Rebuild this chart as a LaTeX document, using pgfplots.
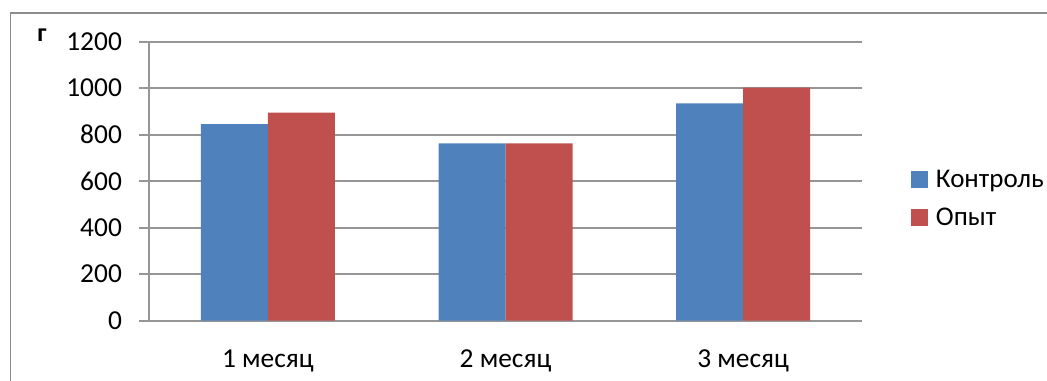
\documentclass[border=0pt]{standalone}
\usepackage{fontspec}
\setmainfont{Carlito}
\usepackage{pgfplots}
\pgfplotsset{compat=1.18}
\definecolor{cblue}{HTML}{4F81BD}
\definecolor{cred}{HTML}{C0504D}
\definecolor{gridgray}{HTML}{969696}
\definecolor{framegray}{HTML}{8C8C8C}
\begin{document}
\begin{tikzpicture}
\useasboundingbox (0,0) rectangle (523.5bp,190.5bp);
\draw[framegray, line width=0.8bp] (5.3bp,-2bp) -- (5.3bp,184bp) -- (530bp,184bp);
\begin{axis}[
  at={(74.5bp,30.15bp)}, anchor=south west,
  scale only axis, width=356.5bp, height=139.5bp,
  ybar=0pt, bar width=33.5bp,
  xmin=-0.5, xmax=2.5, ymin=0, ymax=1200,
  enlarge x limits=false,
  axis x line*=bottom, axis y line*=left,
  axis line style={-, gridgray, line width=0.9bp},
  xtick={0,1,2},
  xticklabels={1 месяц, 2 месяц, 3 месяц},
  major x tick style={draw=none},
  extra x ticks={-0.5,0.5,1.5,2.5},
  extra x tick labels={},
  extra x tick style={major tick length=4.75bp, tick style={gridgray, line width=0.9bp}, grid=none},
  ytick={0,200,...,1200},
  tick align=outside,
  major tick length=4.75bp,
  tick style={gridgray, line width=0.9bp},
  ymajorgrids,
  major grid style={gridgray, line width=0.9bp},
  /pgf/number format/assume math mode=true,
  /pgf/number format/1000 sep={},
  ticklabel style={font=\fontsize{13.7bp}{16bp}\selectfont, inner sep=0pt},
  yticklabel style={anchor=east, xshift=-8.6bp},
  xticklabel style={anchor=base, yshift=-18.4bp},
  legend style={at={(rel axis cs:1.0687,0.5427)}, anchor=north west, draw=none, fill=none,
    inner sep=0pt, outer sep=0pt, row sep=6bp, column sep=4bp,
    font=\fontsize{13.5bp}{16bp}\selectfont,
    nodes={inner sep=0pt, outer sep=0pt, text height=9bp, text depth=4bp, anchor=base west}},
  legend cell align=left,
  legend image code/.code={\fill (0bp,-0.25bp) rectangle (8.5bp,8.25bp);},
]
\addplot[fill=cblue, draw=none] coordinates {(0,846) (1,763) (2,935)};
\addplot[fill=cred, draw=none] coordinates {(0,895) (1,763) (2,1002)};
\legend{Контроль, Опыт}
\end{axis}
\node[anchor=base west, inner sep=0pt, font=\fontsize{13bp}{15bp}\selectfont\bfseries] at (18.5bp,169.5bp) {г};
\end{tikzpicture}
\end{document}
